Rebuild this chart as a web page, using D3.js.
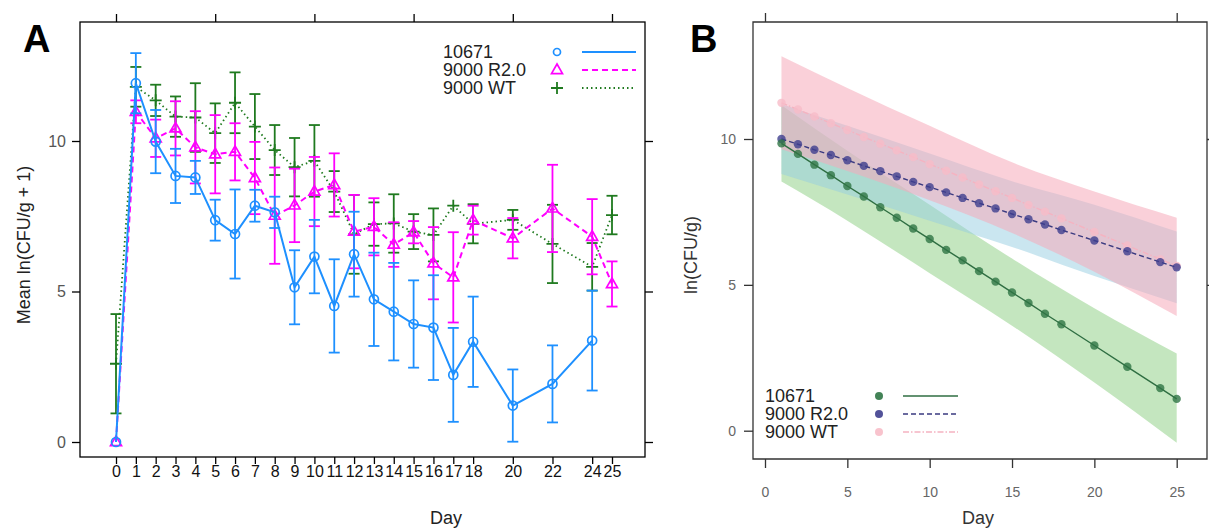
<!DOCTYPE html>
<html>
<head>
<meta charset="utf-8">
<script src="https://cdn.jsdelivr.net/npm/d3@7"></script>
<style>
  body { margin: 0; background: #fff; }
  svg { font-family: "Liberation Sans", Arial, sans-serif; }
</style>
</head>
<body>
<svg id="chart" width="1209" height="528"></svg>
<script>
// ---- panel A : observed means +/- error ----
var daysA = [0,1,2,3,4,5,6,7,8,9,10,11,12,13,14,15,16,17,18,20,22,24,25];
var days10671 = daysA.slice(0, 22); // no day 25 sample
var mean10671 = [0,11.92,9.98,8.84,8.79,7.37,6.91,7.85,7.63,5.14,6.16,4.52,6.24,4.74,4.33,3.92,3.80,2.23,3.33,1.21,1.93,3.37];
var err10671  = [0,1.0,1.05,0.9,0.55,0.68,1.48,0.53,0.52,1.23,1.22,1.55,1.41,1.55,1.62,1.45,1.74,1.56,1.5,1.2,1.28,1.66];
var meanR20 = [0,10.97,10.09,10.42,9.79,9.56,9.64,8.77,7.52,7.86,8.32,8.54,6.99,7.15,6.56,6.97,5.94,5.47,7.37,6.77,7.76,6.82,5.25];
var errR20  = [0,0.38,0.62,0.9,1.2,1.3,0.95,1.2,1.6,1.22,1.15,1.05,1.22,0.95,0.74,0.37,1.2,1.5,0.48,0.67,1.45,1.25,0.75];
var meanWT = [2.6,11.8,11.35,10.81,10.78,10.26,11.27,10.48,9.7,9.13,9.34,8.32,6.9,7.24,7.26,6.99,6.88,7.85,7.25,7.38,6.58,5.82,7.54];
var errWT  = [1.65,0.66,0.52,0.67,1.14,0.99,1.01,1.08,0.83,0.97,1.19,0.68,1.31,0.72,0.97,0.58,0.88,0,0.65,0.33,1.3,0.79,0.64];
var seriesNames = ["10671", "9000 R2.0", "9000 WT"];

// ---- panel B : model fit ----
var daysB = [1,2,3,4,5,6,7,8,9,10,11,12,13,14,15,16,17,18,20,22,24,25];
var fit10671 = [9.85,9.49,9.12,8.76,8.39,8.03,7.66,7.30,6.93,6.57,6.20,5.84,5.47,5.11,4.74,4.38,4.01,3.65,2.92,2.19,1.46,1.09];
var fitR20   = [10.0,9.82,9.63,9.45,9.27,9.08,8.90,8.72,8.53,8.35,8.17,7.98,7.80,7.62,7.43,7.25,7.07,6.88,6.52,6.15,5.78,5.60];
var fitWT    = [11.24,11.01,10.77,10.54,10.31,10.07,9.84,9.61,9.38,9.14,8.91,8.68,8.44,8.21,7.98,7.74,7.51,7.28,6.81,6.35,5.88,5.65];
var bandDays = [1,5,10,15,20,25];
var lo10671 = [8.54,7.2,5.4,3.6,1.65,-0.41], hi10671 = [11.16,9.6,7.75,5.9,4.2,2.65];
var loR20   = [8.8,8.1,7.2,6.3,5.3,4.37],    hiR20   = [11.2,10.45,9.5,8.55,7.75,6.83];
var loWT    = [9.65,8.9,7.9,6.78,5.45,3.93], hiWT    = [12.84,11.75,10.45,9.2,8.2,7.3];

var svg = d3.select("#chart");

// ================= panel A =================
var xA = d3.scaleLinear().domain([0, 25]).range([116, 612]);
var yA = d3.scaleLinear().domain([0, 10]).range([442, 141]);
var gA = svg.append("g");

gA.append("rect").attr("x", 80).attr("y", 22).attr("width", 565).attr("height", 435)
  .attr("fill", "none").attr("stroke", "#000").attr("stroke-width", 1.3);

var axB = gA.append("g").attr("transform", "translate(0,457)")
  .call(d3.axisBottom(xA).tickValues(daysA).tickSize(7).tickPadding(2));
var axT = gA.append("g").attr("transform", "translate(0,22)")
  .call(d3.axisTop(xA).tickValues([0,5,10,15,20,25]).tickSize(8).tickFormat(""));
var axL = gA.append("g").attr("transform", "translate(80,0)")
  .call(d3.axisLeft(yA).tickValues([0,5,10]).tickSize(8).tickPadding(6));
var axR = gA.append("g").attr("transform", "translate(645,0)")
  .call(d3.axisRight(yA).tickValues([0,5,10]).tickSize(8).tickFormat(""));
[axB, axT, axL, axR].forEach(function(a) {
  a.select(".domain").remove();
  a.selectAll("line").attr("stroke", "#000").attr("stroke-width", 1.3);
  a.selectAll("text").attr("font-size", 16).attr("font-family", null).attr("fill", "#111");
});
axL.selectAll("text").attr("fill", "#555");

gA.append("text").attr("x", 446).attr("y", 524).attr("text-anchor", "middle")
  .attr("font-size", 18).attr("fill", "#222").text("Day");
gA.append("text").attr("transform", "translate(30,245) rotate(-90)").attr("text-anchor", "middle")
  .attr("font-size", 18).attr("fill", "#222").text("Mean ln(CFU/g + 1)");
svg.append("text").attr("x", 23).attr("y", 52).attr("font-size", 38).attr("font-weight", "bold").text("A");

function zipA(days, mean, err) {
  return days.map(function(d, i) { return {day: d, mean: mean[i], err: err[i]}; });
}
var styleA = [
  {data: zipA(days10671, mean10671, err10671), color: "#1E90FF", dash: null, width: 2, shape: "circle"},
  {data: zipA(daysA, meanR20, errR20), color: "#FF00FF", dash: "6,4", width: 2, shape: "tri"},
  {data: zipA(daysA, meanWT, errWT), color: "#1F7A1F", dash: "1.5,3", width: 1.8, shape: "plus"}
];

var lineA = d3.line().x(function(d) { return xA(d.day); }).y(function(d) { return yA(d.mean); });

function marker(g, shape, color, x, y) {
  if (shape == "circle") {
    g.append("circle").attr("cx", x).attr("cy", y).attr("r", 4.5)
      .attr("fill", "none").attr("stroke", color).attr("stroke-width", 1.7);
  } else if (shape == "tri") {
    g.append("path").attr("transform", "translate(" + x + "," + y + ")")
      .attr("d", "M0,-6L5.5,3.6L-5.5,3.6Z").attr("fill", "none").attr("stroke", color).attr("stroke-width", 1.7);
  } else {
    g.append("path").attr("transform", "translate(" + x + "," + y + ")")
      .attr("d", "M-6,0H6M0,-6V6").attr("stroke", color).attr("stroke-width", 1.8);
  }
}

// WT under R2.0 under 10671
[2, 1, 0].forEach(function(k) {
  var s = styleA[k];
  var g = gA.append("g");
  s.data.forEach(function(d) {
    if (d.err <= 0) return;
    var x = xA(d.day), y1 = yA(d.mean + d.err), y2 = yA(d.mean - d.err);
    g.append("line").attr("x1", x).attr("x2", x).attr("y1", y1).attr("y2", y2)
      .attr("stroke", s.color).attr("stroke-width", 1.8);
    [y1, y2].forEach(function(yy) {
      g.append("line").attr("x1", x - 5.5).attr("x2", x + 5.5).attr("y1", yy).attr("y2", yy)
        .attr("stroke", s.color).attr("stroke-width", 1.8);
    });
  });
  g.append("path").attr("d", lineA(s.data)).attr("fill", "none")
    .attr("stroke", s.color).attr("stroke-width", s.width).attr("stroke-dasharray", s.dash);
  s.data.forEach(function(d) { marker(g, s.shape, s.color, xA(d.day), yA(d.mean)); });
});

// legend A
var legA = gA.append("g");
styleA.forEach(function(s, i) {
  var yy = 52 + i * 18;
  legA.append("text").attr("x", 443).attr("y", yy + 6).attr("font-size", 18).attr("fill", "#222").text(seriesNames[i]);
  if (s.shape == "circle") {
    legA.append("circle").attr("cx", 557).attr("cy", yy).attr("r", 3.5)
      .attr("fill", "none").attr("stroke", s.color).attr("stroke-width", 1.7);
  } else {
    marker(legA, s.shape, s.color, 557, yy);
  }
  legA.append("line").attr("x1", 582).attr("x2", 636).attr("y1", yy).attr("y2", yy)
    .attr("stroke", s.color).attr("stroke-width", s.width).attr("stroke-dasharray", s.dash);
});

// ================= panel B =================
var xB = d3.scaleLinear().domain([0, 25]).range([765, 1176.7]);
var yB = d3.scaleLinear().domain([0, 10]).range([430.7, 139]);
var gB = svg.append("g");

function zipBand(lo, hi) {
  return bandDays.map(function(d, i) { return {day: d, lo: lo[i], hi: hi[i]}; });
}
var area = d3.area().curve(d3.curveMonotoneX)
  .x(function(d) { return xB(d.day); })
  .y0(function(d) { return yB(d.lo); })
  .y1(function(d) { return yB(d.hi); });

gB.append("path").attr("d", area(zipBand(lo10671, hi10671))).attr("fill", "#9dd694").attr("opacity", 0.6);
gB.append("path").attr("d", area(zipBand(loR20, hiR20))).attr("fill", "#96cde1").attr("opacity", 0.5);
gB.append("path").attr("d", area(zipBand(loWT, hiWT))).attr("fill", "#f5a9ba").attr("opacity", 0.55);

var styleB = [
  {fit: fit10671, color: "#2f6e42", dot: "#2f7545", dash: null},
  {fit: fitR20, color: "#3a3a80", dot: "#3f3f8e", dash: "5,3"},
  {fit: fitWT, color: "#f5b3c1", dot: "#f7bcc8", dash: "6,2,1.5,2"}
];
var lineB = d3.line().x(function(d) { return xB(d.day); }).y(function(d) { return yB(d.v); });

[2, 1, 0].forEach(function(k) {
  var s = styleB[k];
  var pts = daysB.map(function(d, i) { return {day: d, v: s.fit[i]}; });
  gB.append("path").attr("d", lineB(pts)).attr("fill", "none")
    .attr("stroke", s.color).attr("stroke-width", 1.4).attr("stroke-dasharray", s.dash);
  gB.selectAll(null).data(pts).enter().append("circle")
    .attr("cx", function(d) { return xB(d.day); })
    .attr("cy", function(d) { return yB(d.v); })
    .attr("r", 4.2).attr("fill", s.dot).attr("opacity", 0.8);
});

// frame and axes
gB.append("path").attr("d", "M753,22H1207V459H753Z").attr("fill", "none")
  .attr("stroke", "#333").attr("stroke-width", 1.3);
var bx = gB.append("g").attr("transform", "translate(0,459)")
  .call(d3.axisBottom(xB).tickValues([0,5,10,15,20,25]).tickSize(9).tickPadding(19));
var bt = gB.append("g").attr("transform", "translate(0,22)")
  .call(d3.axisTop(xB).tickValues([0,25]).tickSize(9).tickFormat(""));
var by = gB.append("g").attr("transform", "translate(753,0)")
  .call(d3.axisLeft(yB).tickValues([0,5,10]).tickSize(9).tickPadding(8));
var br = gB.append("g").attr("transform", "translate(1207,0)")
  .call(d3.axisRight(yB).tickValues([5,10]).tickSize(6).tickFormat(""));
[bx, bt, by, br].forEach(function(a) {
  a.select(".domain").remove();
  a.selectAll("line").attr("stroke", "#333").attr("stroke-width", 1.3);
  a.selectAll("text").attr("font-size", 14).attr("font-family", null).attr("fill", "#666");
});

gB.append("text").attr("x", 978).attr("y", 524).attr("text-anchor", "middle")
  .attr("font-size", 18).attr("fill", "#333").text("Day");
gB.append("text").attr("transform", "translate(697,255) rotate(-90)").attr("text-anchor", "middle")
  .attr("font-size", 18).attr("fill", "#333").text("ln(CFU/g)");
svg.append("text").attr("x", 690).attr("y", 52).attr("font-size", 38).attr("font-weight", "bold").text("B");

// legend B
var legB = gB.append("g");
styleB.forEach(function(s, i) {
  var yy = 396 + i * 18;
  legB.append("text").attr("x", 765).attr("y", yy + 6).attr("font-size", 18).attr("fill", "#222").text(seriesNames[i]);
  legB.append("circle").attr("cx", 879).attr("cy", yy).attr("r", 4).attr("fill", s.dot).attr("opacity", 0.9);
  legB.append("line").attr("x1", 903).attr("x2", 958).attr("y1", yy).attr("y2", yy)
    .attr("stroke", s.color).attr("stroke-width", 1.5).attr("stroke-dasharray", s.dash);
});
</script>
</body>
</html>
